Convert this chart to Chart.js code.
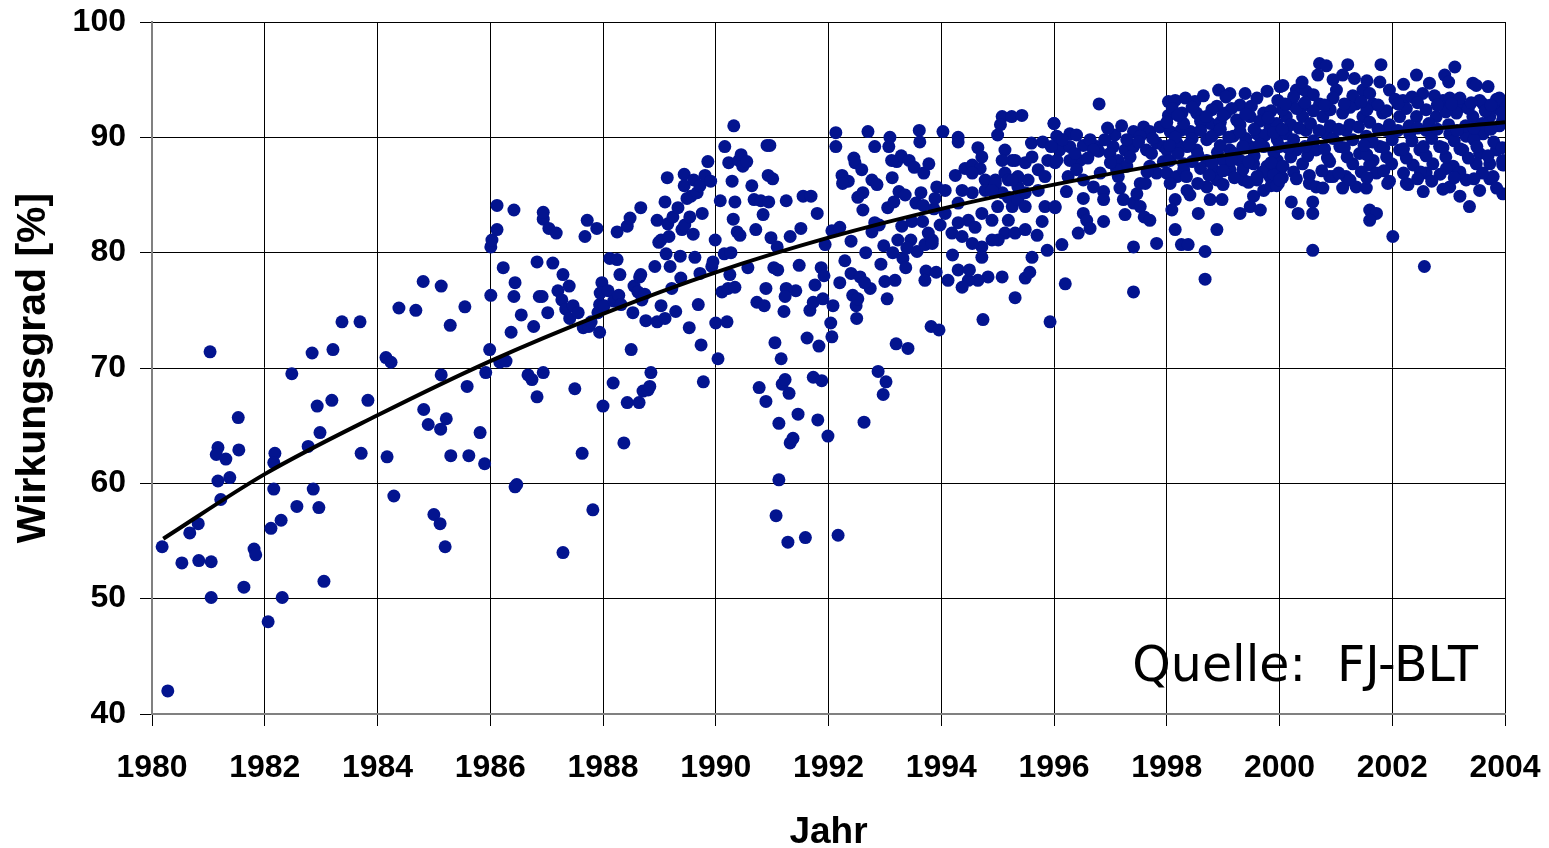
<!DOCTYPE html>
<html>
<head>
<meta charset="utf-8">
<title>Wirkungsgrad</title>
<script src="https://cdn.jsdelivr.net/npm/chart.js@4.4.1/dist/chart.umd.min.js"></script>
<style>
  html, body { margin: 0; padding: 0; background: #fff; }
  #wrap { width: 1549px; height: 848px; position: relative; }
</style>
</head>
<body>
<div id="wrap"><canvas id="chart"></canvas></div>
<script>
// Wirkungsgrad ueber Baujahr, Streudiagramm mit Trendlinie

// tick labels
const xTicks = [1980, 1982, 1984, 1986, 1988, 1990, 1992, 1994, 1996, 1998, 2000, 2002, 2004];
const yTicks = [40, 50, 60, 70, 80, 90, 100];

// measured points [Jahr, Wirkungsgrad %]
const pts1980_1984 = [
  [1980.18,54.5],[1980.28,42.0],[1980.53,53.1],[1980.67,55.7],[1980.82,56.5],[1980.83,53.3],[1981.03,71.4],[1981.05,50.1],
  [1981.05,53.2],[1981.17,63.1],[1981.14,62.5],[1981.17,60.2],[1981.22,58.6],[1981.31,62.1],[1981.38,60.5],[1981.53,65.7],
  [1981.54,62.9],[1981.63,51.0],[1981.81,54.3],[1981.84,53.8],[1982.06,48.0],[1982.11,56.1],[1982.16,59.5],[1982.18,62.6],
  [1982.16,61.8],[1982.29,56.8],[1982.31,50.1],[1982.48,69.5],[1982.57,58.0],[1982.77,63.2],[1982.84,71.3],[1982.86,59.5],
  [1982.93,66.7],[1982.96,57.9],[1982.98,64.4],[1983.05,51.5],[1983.19,67.2],[1983.21,71.6],[1983.37,74.0],[1983.69,74.0],
  [1983.71,62.6],[1983.83,67.2]
];
const pts1984_1988 = [
  [1984.15,70.9],[1984.17,62.3],[1984.24,70.5],[1984.29,58.9],[1984.38,75.2],[1984.68,75.0],[1984.81,77.5],[1984.82,66.4],
  [1984.9,65.1],[1985.0,57.3],[1985.11,56.5],[1985.13,77.1],[1985.13,69.4],[1985.12,64.7],[1985.2,54.5],[1985.22,65.6],
  [1985.29,73.7],[1985.3,62.4],[1985.55,75.3],[1985.59,68.4],[1985.62,62.4],[1985.82,64.4],[1985.9,61.7],[1985.92,69.6],
  [1985.99,71.6],[1986.01,76.3],[1986.01,80.5],[1986.03,81.1],[1986.12,84.1],[1986.12,82.0],[1986.17,70.5],[1986.23,78.7],
  [1986.28,70.6],[1986.37,73.1],[1986.42,83.7],[1986.42,76.2],[1986.44,77.4],[1986.44,59.7],[1986.47,59.9],[1986.55,74.6],
  [1986.67,69.4],[1986.74,69.0],[1986.77,73.6],[1986.83,67.5],[1986.83,79.2],[1986.87,76.2],[1986.92,76.2],[1986.94,82.9],
  [1986.94,83.5],[1986.94,69.6],[1987.02,74.8],[1987.04,82.1],[1987.11,79.1],[1987.17,81.7],[1987.2,76.7],[1987.27,75.9],
  [1987.29,78.1],[1987.29,54.0],[1987.34,75.1],[1987.4,77.1],[1987.41,74.3],[1987.47,75.4],[1987.5,68.2],[1987.56,74.8],
  [1987.63,62.6],[1987.65,73.5],[1987.68,81.4],[1987.72,82.8],[1987.75,73.6],[1987.79,74.0],[1987.82,57.7],[1987.89,82.1],
  [1987.91,74.8],[1987.94,75.5],[1987.94,73.1],[1987.98,77.4],[1987.95,76.5]
];
const pts1988_1992 = [
  [1988.0,66.7],[1988.02,75.4],[1988.09,76.7],[1988.12,79.5],[1988.18,68.7],[1988.19,75.8],[1988.25,81.8],[1988.25,79.4],
  [1988.28,76.3],[1988.3,78.1],[1988.32,75.5],[1988.37,63.5],[1988.43,67.0],[1988.43,82.3],[1988.48,83.0],[1988.5,71.6],
  [1988.53,74.8],[1988.55,77.1],[1988.62,76.6],[1988.64,67.0],[1988.65,77.9],[1988.67,83.9],[1988.69,75.9],[1988.71,68.0],
  [1988.74,76.4],[1988.76,74.1],[1988.8,68.1],[1988.83,68.4],[1988.85,69.6],[1988.92,78.8],[1988.96,82.8],[1988.96,74.0],
  [1988.99,80.9],[1989.03,75.4],[1989.03,81.1],[1989.1,74.3],[1989.12,79.9],[1989.14,86.5],[1989.15,82.5],[1989.17,81.4],
  [1989.19,78.8],[1989.22,76.9],[1989.24,83.1],[1989.29,74.9],[1989.33,83.9],[1989.37,79.7],[1989.4,82.0],[1989.44,86.8],
  [1989.44,85.8],[1989.45,82.4],[1989.49,84.7],[1989.53,73.5],[1989.54,83.1],[1989.56,84.9],[1989.6,81.6],[1989.61,86.3],
  [1989.63,79.6],[1989.67,85.2],[1989.69,75.5],[1989.72,85.8],[1989.74,72.0],[1989.76,83.4],[1989.78,68.8],[1989.81,86.7],
  [1989.86,87.9],[1989.91,86.2],[1989.93,78.8],[1989.95,79.2],[1989.99,81.1],[1990.0,73.9],[1990.04,70.8],[1990.08,84.5],
  [1990.11,76.6],[1990.15,79.9],[1990.16,89.2],[1990.2,74.0],[1990.22,76.9],[1990.23,87.8],[1990.29,86.2],[1990.31,82.9],
  [1990.32,91.0],[1990.34,84.4],[1990.38,81.8],[1990.41,88.0],[1990.45,88.5],[1990.48,87.5],[1990.55,87.9],[1990.57,78.7],
  [1990.64,85.8],[1990.68,84.6],[1990.71,82.0],[1990.73,75.7],[1990.77,68.3],[1990.8,84.5],[1990.84,83.3],[1990.86,75.4],
  [1990.89,67.1],[1990.91,89.3],[1990.93,86.7],[1990.94,84.4],[1990.96,89.3],[1990.98,81.3],[1991.01,86.4],[1991.03,78.7],
  [1991.05,72.2],[1991.09,80.5],[1991.07,57.2],[1991.1,78.5],[1991.12,60.3],[1991.12,65.2],[1991.16,70.8],[1991.18,68.6],
  [1991.21,74.9],[1991.23,69.0],[1991.25,84.5],[1991.28,54.9],[1991.3,67.8],[1991.32,63.5],[1991.37,63.9],[1991.42,76.7],
  [1991.46,66.0],[1991.48,78.9],[1991.51,82.1],[1991.55,84.9],[1991.59,55.3],[1991.62,72.6],[1991.67,75.0],[1991.69,84.9],
  [1991.73,69.2],[1991.76,77.2],[1991.8,83.4],[1991.81,65.5],[1991.83,71.9],[1991.87,78.7],[1991.88,68.9],[1991.92,78.0],
  [1991.94,80.7],[1991.99,64.1],[1988.67,78.1],[1989.38,77.8],[1990.89,76.9],[1991.25,76.9],[1991.23,76.2],[1991.73,75.7],
  [1991.9,76.0],[1990.27,80.0],[1989.72,78.2],[1990.25,78.1],[1990.34,77.0],[1989.1,84.4],[1990.43,81.5],[1991.32,81.4]
];
const pts1992_1994 = [
  [1992.04,73.9],[1992.06,72.7],[1992.06,81.9],[1992.08,75.4],[1992.13,90.4],[1992.13,89.2],[1992.17,55.5],[1992.2,82.2],
  [1992.24,86.7],[1992.29,79.3],[1992.35,86.2],[1992.4,81.0],[1992.4,78.2],[1992.43,76.3],[1992.45,88.2],[1992.47,87.8],
  [1992.49,75.4],[1992.5,74.3],[1992.52,76.0],[1992.56,77.9],[1992.59,87.2],[1992.61,85.2],[1992.63,65.3],[1992.66,80.0],
  [1992.7,90.5],[1992.74,76.9],[1992.77,86.3],[1992.82,89.2],[1992.86,85.9],[1992.88,69.7],[1992.9,82.4],[1992.93,79.0],
  [1992.97,67.7],[1992.98,80.6],[1993.02,68.8],[1993.04,76.0],[1993.05,83.9],[1993.07,89.2],[1993.09,90.0],[1993.13,86.5],
  [1993.14,80.0],[1993.16,84.4],[1993.2,72.1],[1993.21,87.9],[1993.23,81.1],[1993.25,85.3],[1993.29,88.4],[1993.3,82.3],
  [1993.32,79.5],[1993.36,85.0],[1993.37,78.7],[1993.41,71.7],[1993.43,88.0],[1993.46,81.1],[1993.48,82.7],[1993.52,87.4],
  [1993.55,84.3],[1993.57,80.1],[1993.61,90.6],[1993.62,89.6],[1993.64,85.2],[1993.67,82.7],[1993.69,86.9],[1993.71,80.7],
  [1993.73,78.4],[1993.78,87.7],[1993.82,73.6],[1993.84,81.1],[1993.87,83.8],[1993.91,78.3],[1993.92,85.7],[1993.96,73.3],
  [1993.98,82.4],[1992.25,86.0],[1992.52,84.8],[1992.61,83.7],[1993.12,88.0],[1993.68,84.1],[1993.89,84.7],[1992.82,82.6],
  [1992.77,81.8],[1993.77,81.7],[1993.39,80.4],[1993.84,80.8],[1992.64,77.4],[1992.2,77.4],[1993.0,77.5],[1993.18,77.6],
  [1993.71,77.6]
];
const pts1994_1996 = [
  [1994.03,90.5],[1994.3,90.0],[1994.3,89.6],[1994.65,89.1],[1995.08,91.8],[1995.25,91.8],[1995.43,91.9],[1995.05,91.1],
  [1995.0,90.2],[1996.0,91.2],[1995.6,89.5],[1995.8,89.6],[1994.25,86.7],[1994.42,87.3],[1994.55,87.6],[1994.69,87.3],
  [1994.78,86.3],[1994.96,86.3],[1995.13,86.9],[1995.31,88.0],[1995.49,87.8],[1995.72,87.2],[1995.89,88.0],[1995.13,88.9],
  [1995.26,88.0],[1995.19,84.8],[1995.26,84.0],[1995.08,85.2],[1995.0,84.0],[1995.36,84.6],[1995.49,84.0],[1995.19,82.8],
  [1995.13,81.7],[1995.31,81.7],[1995.01,81.1],[1994.9,81.1],[1994.72,80.5],[1994.55,80.8],[1994.72,79.6],[1994.83,77.9],
  [1994.65,77.6],[1994.48,77.6],[1994.37,77.0],[1994.3,78.5],[1994.5,78.5],[1994.2,79.8],[1994.12,77.6],[1995.08,77.9],
  [1995.31,76.1],[1994.74,74.2],[1995.49,77.8],[1995.57,78.3],[1995.61,79.6],[1995.7,81.5],[1995.79,82.7],[1995.84,84.0],
  [1996.02,83.9],[1995.88,80.2],[1995.93,74.0],[1994.55,85.2],[1994.72,83.4],[1994.48,82.8],[1994.3,82.6],[1994.6,82.2],
  [1994.3,84.3],[1994.07,85.4],[1994.37,85.4],[1994.9,82.8],[1994.96,86.0],[1994.78,85.4],[1995.54,86.3],[1995.72,85.4],
  [1995.36,85.7],[1995.49,85.2],[1995.19,86.3],[1995.61,88.3],[1995.84,86.6],[1996.02,87.8],[1994.9,85.4],[1994.72,88.3],
  [1994.55,86.9],[1994.19,81.7],[1994.37,81.4],[1994.07,83.4],[1995.08,88.0],[1995.36,86.6],[1995.49,82.0],[1995.26,86.3]
];
const pts1996_1998 = [
  [1996.8,92.9],[1996.0,91.2],[1996.28,90.3],[1996.05,90.1],[1996.05,89.2],[1996.1,88.9],[1995.95,89.2],[1996.28,89.2],
  [1996.52,89.3],[1996.76,89.2],[1996.79,88.8],[1996.46,88.0],[1996.28,88.0],[1996.05,88.0],[1996.25,86.6],[1996.52,86.3],
  [1996.22,85.3],[1996.02,84.0],[1996.52,84.7],[1996.52,83.4],[1996.58,82.8],[1996.43,81.7],[1996.64,82.1],[1996.88,82.7],
  [1996.14,80.7],[1996.2,77.3],[1997.08,90.2],[1997.05,89.2],[1996.99,88.6],[1997.14,88.0],[1997.26,88.9],[1997.41,90.5],
  [1997.41,89.2],[1997.59,90.9],[1997.7,90.5],[1997.64,88.9],[1997.73,88.6],[1997.29,87.5],[1997.14,86.6],[1996.88,85.3],
  [1996.88,84.6],[1997.17,85.6],[1997.26,83.3],[1997.41,84.3],[1997.47,85.1],[1997.53,86.0],[1997.62,86.0],[1997.53,84.0],
  [1997.6,83.1],[1997.7,82.8],[1997.41,80.5],[1997.41,76.6],[1997.82,80.8],[1997.82,86.9],[1997.94,87.9],[1997.88,90.9],
  [1996.64,89.8],[1996.7,88.9],[1996.37,88.6],[1997.29,89.8],[1997.53,90.1],[1997.82,89.5],[1997.7,87.5],[1997.11,87.2],
  [1996.82,86.9],[1997.23,84.6],[1996.7,85.7],[1996.4,87.2],[1996.15,89.8],[1996.4,90.2],[1996.6,88.2],[1996.9,89.8],
  [1997.0,87.8],[1997.35,88.3],[1997.5,89.6],[1997.75,89.9],[1997.95,89.2],[1997.2,91.0],[1996.95,90.8],[1997.65,87.0]
];
const pts1998_2000 = [
  [1998.03,91.9],[1998.03,93.1],[1998.15,93.2],[1998.33,93.4],[1998.5,93.1],[1998.27,92.1],[1998.53,92.1],[1998.06,90.5],
  [1998.25,90.6],[1998.42,90.5],[1998.0,88.9],[1998.18,89.5],[1998.36,89.2],[1998.53,88.9],[1998.06,88.0],[1998.3,87.7],
  [1998.0,86.9],[1998.18,86.6],[1998.06,86.0],[1998.36,85.4],[1998.15,84.6],[1998.09,83.7],[1998.41,85.0],[1998.56,83.4],
  [1998.15,82.0],[1998.26,80.7],[1998.38,80.7],[1998.68,80.1],[1998.68,77.7],[1998.89,82.0],[1998.77,84.6],[1998.98,84.6],
  [1998.71,85.7],[1998.89,86.3],[1998.83,87.2],[1998.71,88.0],[1999.0,88.0],[1998.71,89.8],[1998.89,90.6],[1998.77,91.2],
  [1998.92,94.1],[1999.12,93.8],[1998.89,92.7],[1999.05,92.1],[1999.18,90.1],[1999.24,91.5],[1999.12,88.9],[1999.12,87.2],
  [1999.3,88.0],[1999.36,86.3],[1999.39,93.8],[1999.3,92.8],[1999.6,93.4],[1999.78,94.0],[2000.01,94.4],[1999.48,91.8],
  [1999.72,92.1],[1999.6,90.3],[1999.83,90.9],[1999.48,89.2],[1999.72,89.2],[1999.96,89.8],[1999.54,87.7],[1999.78,87.5],
  [1999.96,88.0],[1999.6,86.3],[1999.83,86.6],[2000.01,87.2],[1999.54,84.9],[1999.48,84.0],[1999.66,83.7],[1999.3,83.4],
  [1999.72,85.4],[1999.98,86.0],
  [1998.1,92.5],[1998.45,92.6],[1998.8,92.4],[1999.15,92.5],[1999.5,92.7],[1999.85,92.3],
  [1998.0,91.3],[1998.3,91.2],[1998.6,91.4],[1998.95,91.3],[1999.3,91.1],[1999.65,91.4],[1999.95,91.2],
  [1998.15,90.0],[1998.45,89.9],[1998.8,90.1],[1999.1,90.0],[1999.4,89.9],[1999.75,90.2],
  [1998.2,88.6],[1998.55,88.5],[1998.9,88.7],[1999.2,88.6],[1999.55,88.4],[1999.9,88.7],
  [1998.3,87.2],[1998.6,87.3],[1999.0,87.1],[1999.35,87.2],[1999.7,87.0],[1999.95,87.3],
  [1998.55,86.0],[1999.0,85.9],[1999.45,86.1],[1999.85,85.8],[1999.9,86.8],[2000.05,86.5],[1999.95,85.8],
  [1998.65,93.6],[1999.05,93.5],[1998.2,91.9],[1998.7,91.8],[1999.0,91.9],[1999.4,92.0],[1999.8,91.7],
  [1998.6,90.6],[1998.95,90.7],[1999.3,90.5],[1999.55,90.7],[1999.9,90.4],[1998.05,89.3],[1998.4,89.4],
  [1998.95,89.3],[1999.35,89.2],[1999.65,89.4],[1998.45,87.9],[1998.8,87.8],[1999.15,88.0],[1999.45,87.9],
  [1999.85,87.8],[1998.35,86.6],[1998.75,86.7],[1999.2,86.5],[1999.6,86.6]
];
const pts2000_2004 = [
  [2000.71,96.4],[2000.83,96.2],[2000.68,95.4],[2001.21,96.3],[2001.12,95.4],[2001.33,95.1],[2000.95,95.0],[2001.8,96.3],
  [2001.78,94.8],[2002.43,95.4],[2002.66,94.7],[2002.93,95.4],[2003.11,96.1],[2003.43,94.7],[2003.49,94.5],[2003.9,93.4],
  [2003.96,92.8],[2000.06,94.5],[2000.3,94.1],[2000.47,94.0],[1999.97,93.2],[2000.18,92.9],[2000.41,92.7],[2000.71,92.9],
  [2001.01,94.1],[2001.48,94.1],[2001.36,92.9],[2001.66,92.9],[2001.95,94.1],[2002.19,93.2],[2002.54,93.8],[2002.9,93.2],
  [2003.02,93.4],[2003.25,92.7],[2003.61,92.9],[2003.79,92.5],[2000.12,91.8],[2000.41,91.8],[2000.77,91.8],[2001.12,92.1],
  [2001.48,91.8],[2001.83,92.1],[2002.13,91.8],[2002.43,91.8],[2002.78,91.8],[2003.14,92.1],[2003.43,91.8],[2003.73,91.8],
  [2003.96,91.5],[2000.12,90.3],[2000.47,90.6],[2000.83,90.3],[2001.18,90.6],[2001.54,90.1],[2001.89,90.6],[2002.31,90.3],
  [2002.6,90.6],[2003.02,90.3],[2003.31,90.1],[2003.61,90.3],[2000.0,89.2],[2000.3,88.9],[2000.65,88.9],[2001.07,89.2],
  [2001.42,88.6],[2001.78,89.2],[2002.13,88.9],[2002.49,88.9],[2002.84,89.2],[2003.25,88.9],[2003.55,88.6],[2003.85,88.9],
  [2000.06,87.5],[2000.41,87.7],[2000.89,87.9],[2001.3,87.7],[2001.66,88.0],[2001.99,87.7],[2002.37,87.6],[2002.72,87.7],
  [2003.08,87.5],[2003.49,87.7],[2003.73,87.7],[2003.96,87.9],[2000.0,86.3],[2000.53,86.7],[2000.89,86.6],[2001.18,86.6],
  [2001.6,87.6],[2001.72,86.9],[2001.95,86.2],[2002.25,86.0],[2002.6,86.9],[2002.96,87.3],[2003.31,86.3],[2003.73,86.4],
  [2003.96,87.6],[2000.53,86.0],[2000.65,85.7],[2000.77,85.6],[2000.95,86.6],[2001.12,85.6],[2001.36,85.7],[2001.54,85.6],
  [2001.92,86.0],[2002.28,85.9],[2000.21,84.4],[2000.33,83.4],[2000.59,84.4],[2000.59,83.4],[2001.6,83.7],[2001.72,83.4],
  [2001.6,82.8],[2003.02,85.7],[2003.2,84.9],[2003.37,84.0],[2003.96,85.1],[2002.01,81.4],[2000.59,80.2],[2002.57,78.8],
  [2003.96,88.0],[2003.79,86.6],
  [2000.25,93.5],[2000.6,93.7],[2000.95,93.4],[2001.3,93.6],[2001.6,93.8],[2002.05,93.3],[2002.35,93.5],[2002.75,93.6],
  [2003.2,93.4],[2003.55,93.2],[2003.85,93.3],
  [2000.05,92.4],[2000.3,92.5],[2000.6,92.3],[2000.9,92.4],[2001.25,92.6],[2001.55,92.4],[2001.9,92.3],[2002.25,92.5],
  [2002.6,92.4],[2002.95,92.2],[2003.35,92.5],[2003.65,92.3],[2003.95,92.1],
  [2000.2,91.1],[2000.55,91.2],[2000.9,91.0],[2001.25,91.1],[2001.6,91.3],[2001.95,91.1],[2002.3,91.0],[2002.65,91.2],
  [2003.0,91.1],[2003.3,91.0],[2003.6,91.2],[2003.9,91.0],
  [2000.25,89.8],[2000.6,89.7],[2000.95,89.9],[2001.3,89.8],[2001.65,89.6],[2002.0,89.8],[2002.35,89.7],[2002.7,89.9],
  [2003.1,89.7],[2003.45,89.8],[2003.8,89.6],
  [2000.2,88.3],[2000.5,88.4],[2000.85,88.2],[2001.2,88.3],[2001.55,88.5],[2001.9,88.3],[2002.25,88.2],[2002.6,88.4],
  [2002.95,88.3],[2003.35,88.2],[2003.7,88.4],
  [2000.25,87.0],[2000.75,87.1],[2001.05,86.9],[2001.45,87.0],[2001.85,87.1],[2002.2,86.9],[2002.5,87.0],[2002.85,86.8],
  [2003.2,87.0],[2003.6,86.9],
  [2000.4,94.8],[2001.55,94.9],[2002.2,94.6],[2003.0,94.8],[2003.7,94.4],
  [2000.1,92.9],[2000.45,93.0],[2000.8,92.8],[2001.15,92.9],[2001.45,93.1],[2001.75,92.8],[2002.1,92.9],[2002.45,93.0],
  [2002.8,92.8],[2003.05,92.9],[2003.4,93.0],[2003.75,92.8],
  [2000.05,90.7],[2000.35,90.8],[2000.7,90.6],[2001.05,90.7],[2001.4,90.9],[2001.75,90.7],[2002.1,90.6],[2002.45,90.8],
  [2002.8,90.7],[2003.15,90.6],[2003.45,90.8],[2003.75,90.7],
  [2000.15,89.1],[2000.45,89.2],[2000.8,89.0],[2001.15,89.1],[2001.5,89.3],[2001.85,89.1],[2002.2,89.0],[2002.55,89.2],
  [2002.9,89.1],[2003.2,89.0],[2003.5,89.2],[2003.95,89.1],
  [2000.3,86.4],[2001.25,86.3],[2001.55,86.5],[2002.45,86.4],[2002.7,86.2],[2003.1,86.5],[2003.45,86.4],
  [2002.55,85.3],[2002.9,85.5],[2003.55,85.4],[2003.85,85.6]
];

// Trendlinie
const trendYears = [1980.2, 1982, 1984, 1986, 1988, 1990, 1992, 1994, 1996, 1998, 2000, 2002, 2004];
const trendValues = [55.2, 60.8, 65.9, 70.6, 74.7, 78.3, 81.3, 83.8, 85.9, 87.7, 89.1, 90.4, 91.3];

const allPoints = [].concat(pts1980_1984, pts1984_1988, pts1988_1992, pts1992_1994,
  pts1994_1996, pts1996_1998, pts1998_2000, pts2000_2004).map(p => ({ x: p[0], y: p[1] }));
const trendPoints = trendYears.map((x, i) => ({ x: x, y: trendValues[i] }));

const tickFont = { family: 'Liberation Sans, Arial, sans-serif', size: 32, weight: 'bold' };

// Quellenangabe unten rechts
const sourceLabel = {
  id: 'sourceLabel',
  afterDraw(chart) {
    const ctx = chart.ctx;
    ctx.save();
    ctx.font = '49px "DejaVu Sans", sans-serif';
    ctx.fillStyle = '#000';
    ctx.textAlign = 'right';
    ctx.textBaseline = 'alphabetic';
    ctx.fillText('Quelle:  FJ-BLT', 1478, 681);
    ctx.restore();
  }
};

new Chart(document.getElementById('chart'), {
  type: 'scatter',
  data: {
    datasets: [
      {
        label: 'Trend',
        data: trendPoints,
        showLine: true,
        borderColor: '#000',
        borderWidth: 4,
        pointRadius: 0,
        cubicInterpolationMode: 'monotone',
        fill: false
      },
      {
        label: 'Anlagen',
        data: allPoints,
        backgroundColor: '#03148f',
        borderColor: '#03148f',
        pointRadius: 6.5,
        pointBorderWidth: 0
      }
    ]
  },
  options: {
    responsive: true,
    maintainAspectRatio: false,
    animation: false,
    layout: { padding: { top: 22, right: 44, left: 0, bottom: 0 } },
    plugins: {
      legend: { display: false },
      tooltip: { enabled: false }
    },
    scales: {
      x: {
        type: 'linear',
        min: 1980,
        max: 2004,
        afterBuildTicks: axis => { axis.ticks = xTicks.map(v => ({ value: v })); },
        afterFit: scale => {
          scale.height = 134;
          scale.paddingLeft = 0;
          scale.paddingRight = 0;
        },
        ticks: {
          color: '#000',
          font: tickFont,
          padding: 23,
          maxRotation: 0,
          callback: v => String(v)
        },
        grid: { color: '#000', lineWidth: 1, tickLength: 12 },
        border: { color: '#808080', width: 2 },
        title: {
          display: true, text: 'Jahr', color: '#000',
          font: { family: 'Liberation Sans, Arial, sans-serif', size: 37, weight: 'bold' },
          padding: { top: 0, bottom: -7 }
        }
      },
      y: {
        min: 40,
        max: 100,
        afterBuildTicks: axis => { axis.ticks = yTicks.map(v => ({ value: v })); },
        afterFit: scale => {
          scale.width = 152;
          scale.paddingTop = 0;
          scale.paddingBottom = 0;
        },
        ticks: {
          color: '#000',
          font: tickFont,
          padding: 14,
          callback: v => String(v)
        },
        grid: { color: '#000', lineWidth: 1, tickLength: 12 },
        border: { color: '#808080', width: 2 },
        title: {
          display: true, text: 'Wirkungsgrad [%]', color: '#000',
          font: { family: 'Liberation Sans, Arial, sans-serif', size: 41, weight: 'bold' },
          padding: { top: 9, bottom: 0 }
        }
      }
    }
  },
  plugins: [sourceLabel]
});
</script>
</body>
</html>
